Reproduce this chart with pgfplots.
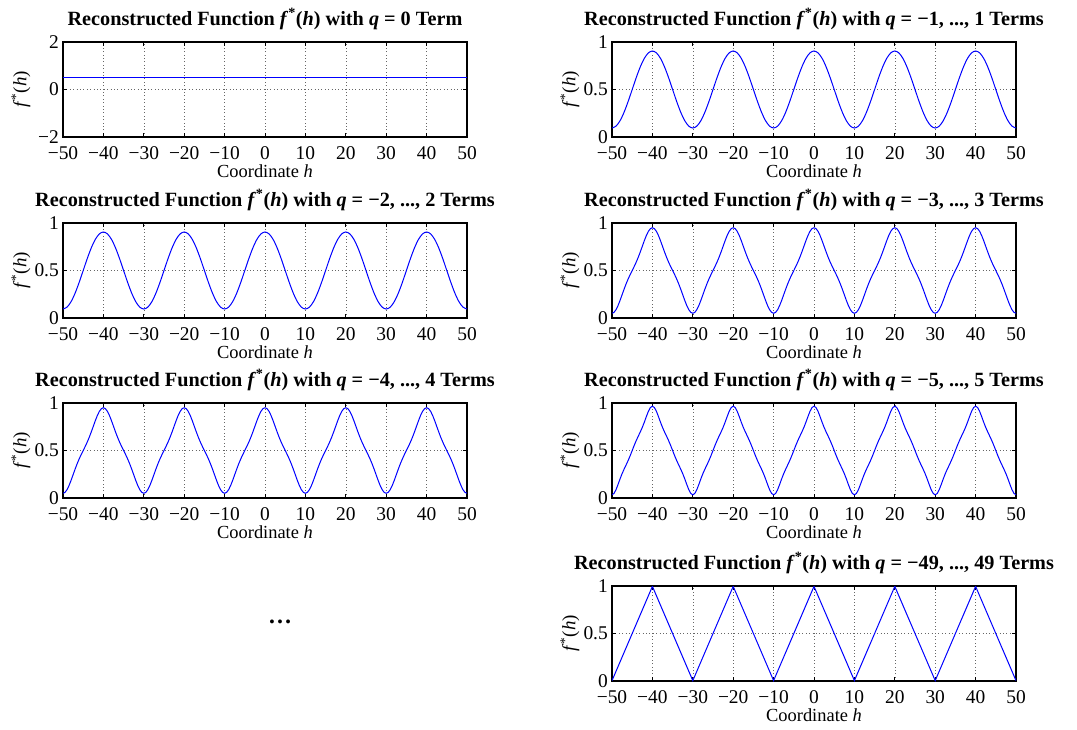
\documentclass[border=0pt]{standalone}
\usepackage{pgfplots}
\pgfplotsset{compat=1.18}
\usepackage{pgfplotstable}
\usepackage{fontspec}
\setmainfont{Liberation Serif}

% Partial Fourier sums of the triangle wave (period 20), sampled on h
% q = -1..1 (identical for -2..2)
\pgfplotstableread[row sep=\\]{
h f\\
-50 0.0947\\ -49 0.1146\\ -48 0.1721\\ -47 0.2618\\ -46 0.3748\\ -45 0.5000\\ -44 0.6252\\ -43 0.7382\\ -42 0.8279\\ -41 0.8854\\
-40 0.9053\\ -39 0.8854\\ -38 0.8279\\ -37 0.7382\\ -36 0.6252\\ -35 0.5000\\ -34 0.3748\\ -33 0.2618\\ -32 0.1721\\ -31 0.1146\\
-30 0.0947\\ -29 0.1146\\ -28 0.1721\\ -27 0.2618\\ -26 0.3748\\ -25 0.5000\\ -24 0.6252\\ -23 0.7382\\ -22 0.8279\\ -21 0.8854\\
-20 0.9053\\ -19 0.8854\\ -18 0.8279\\ -17 0.7382\\ -16 0.6252\\ -15 0.5000\\ -14 0.3748\\ -13 0.2618\\ -12 0.1721\\ -11 0.1146\\
-10 0.0947\\ -9 0.1146\\ -8 0.1721\\ -7 0.2618\\ -6 0.3748\\ -5 0.5000\\ -4 0.6252\\ -3 0.7382\\ -2 0.8279\\ -1 0.8854\\
0 0.9053\\ 1 0.8854\\ 2 0.8279\\ 3 0.7382\\ 4 0.6252\\ 5 0.5000\\ 6 0.3748\\ 7 0.2618\\ 8 0.1721\\ 9 0.1146\\
10 0.0947\\ 11 0.1146\\ 12 0.1721\\ 13 0.2618\\ 14 0.3748\\ 15 0.5000\\ 16 0.6252\\ 17 0.7382\\ 18 0.8279\\ 19 0.8854\\
20 0.9053\\ 21 0.8854\\ 22 0.8279\\ 23 0.7382\\ 24 0.6252\\ 25 0.5000\\ 26 0.3748\\ 27 0.2618\\ 28 0.1721\\ 29 0.1146\\
30 0.0947\\ 31 0.1146\\ 32 0.1721\\ 33 0.2618\\ 34 0.3748\\ 35 0.5000\\ 36 0.6252\\ 37 0.7382\\ 38 0.8279\\ 39 0.8854\\
40 0.9053\\ 41 0.8854\\ 42 0.8279\\ 43 0.7382\\ 44 0.6252\\ 45 0.5000\\ 46 0.3748\\ 47 0.2618\\ 48 0.1721\\ 49 0.1146\\
50 0.0947\\
}\tabA

% q = -3..3 (identical for -4..4)
\pgfplotstableread[row sep=\\]{
h f\\
-50 0.0497\\ -49.5 0.0596\\ -49 0.0881\\ -48.5 0.1318\\ -48 0.1860\\ -47.5 0.2453\\ -47 0.3046\\ -46.5 0.3605\\ -46 0.4112\\ -45.5 0.4570\\
-45 0.5000\\ -44.5 0.5430\\ -44 0.5888\\ -43.5 0.6395\\ -43 0.6954\\ -42.5 0.7547\\ -42 0.8140\\ -41.5 0.8682\\ -41 0.9119\\ -40.5 0.9404\\
-40 0.9503\\ -39.5 0.9404\\ -39 0.9119\\ -38.5 0.8682\\ -38 0.8140\\ -37.5 0.7547\\ -37 0.6954\\ -36.5 0.6395\\ -36 0.5888\\ -35.5 0.5430\\
-35 0.5000\\ -34.5 0.4570\\ -34 0.4112\\ -33.5 0.3605\\ -33 0.3046\\ -32.5 0.2453\\ -32 0.1860\\ -31.5 0.1318\\ -31 0.0881\\ -30.5 0.0596\\
-30 0.0497\\ -29.5 0.0596\\ -29 0.0881\\ -28.5 0.1318\\ -28 0.1860\\ -27.5 0.2453\\ -27 0.3046\\ -26.5 0.3605\\ -26 0.4112\\ -25.5 0.4570\\
-25 0.5000\\ -24.5 0.5430\\ -24 0.5888\\ -23.5 0.6395\\ -23 0.6954\\ -22.5 0.7547\\ -22 0.8140\\ -21.5 0.8682\\ -21 0.9119\\ -20.5 0.9404\\
-20 0.9503\\ -19.5 0.9404\\ -19 0.9119\\ -18.5 0.8682\\ -18 0.8140\\ -17.5 0.7547\\ -17 0.6954\\ -16.5 0.6395\\ -16 0.5888\\ -15.5 0.5430\\
-15 0.5000\\ -14.5 0.4570\\ -14 0.4112\\ -13.5 0.3605\\ -13 0.3046\\ -12.5 0.2453\\ -12 0.1860\\ -11.5 0.1318\\ -11 0.0881\\ -10.5 0.0596\\
-10 0.0497\\ -9.5 0.0596\\ -9 0.0881\\ -8.5 0.1318\\ -8 0.1860\\ -7.5 0.2453\\ -7 0.3046\\ -6.5 0.3605\\ -6 0.4112\\ -5.5 0.4570\\
-5 0.5000\\ -4.5 0.5430\\ -4 0.5888\\ -3.5 0.6395\\ -3 0.6954\\ -2.5 0.7547\\ -2 0.8140\\ -1.5 0.8682\\ -1 0.9119\\ -0.5 0.9404\\
0 0.9503\\ 0.5 0.9404\\ 1 0.9119\\ 1.5 0.8682\\ 2 0.8140\\ 2.5 0.7547\\ 3 0.6954\\ 3.5 0.6395\\ 4 0.5888\\ 4.5 0.5430\\
5 0.5000\\ 5.5 0.4570\\ 6 0.4112\\ 6.5 0.3605\\ 7 0.3046\\ 7.5 0.2453\\ 8 0.1860\\ 8.5 0.1318\\ 9 0.0881\\ 9.5 0.0596\\
10 0.0497\\ 10.5 0.0596\\ 11 0.0881\\ 11.5 0.1318\\ 12 0.1860\\ 12.5 0.2453\\ 13 0.3046\\ 13.5 0.3605\\ 14 0.4112\\ 14.5 0.4570\\
15 0.5000\\ 15.5 0.5430\\ 16 0.5888\\ 16.5 0.6395\\ 17 0.6954\\ 17.5 0.7547\\ 18 0.8140\\ 18.5 0.8682\\ 19 0.9119\\ 19.5 0.9404\\
20 0.9503\\ 20.5 0.9404\\ 21 0.9119\\ 21.5 0.8682\\ 22 0.8140\\ 22.5 0.7547\\ 23 0.6954\\ 23.5 0.6395\\ 24 0.5888\\ 24.5 0.5430\\
25 0.5000\\ 25.5 0.4570\\ 26 0.4112\\ 26.5 0.3605\\ 27 0.3046\\ 27.5 0.2453\\ 28 0.1860\\ 28.5 0.1318\\ 29 0.0881\\ 29.5 0.0596\\
30 0.0497\\ 30.5 0.0596\\ 31 0.0881\\ 31.5 0.1318\\ 32 0.1860\\ 32.5 0.2453\\ 33 0.3046\\ 33.5 0.3605\\ 34 0.4112\\ 34.5 0.4570\\
35 0.5000\\ 35.5 0.5430\\ 36 0.5888\\ 36.5 0.6395\\ 37 0.6954\\ 37.5 0.7547\\ 38 0.8140\\ 38.5 0.8682\\ 39 0.9119\\ 39.5 0.9404\\
40 0.9503\\ 40.5 0.9404\\ 41 0.9119\\ 41.5 0.8682\\ 42 0.8140\\ 42.5 0.7547\\ 43 0.6954\\ 43.5 0.6395\\ 44 0.5888\\ 44.5 0.5430\\
45 0.5000\\ 45.5 0.4570\\ 46 0.4112\\ 46.5 0.3605\\ 47 0.3046\\ 47.5 0.2453\\ 48 0.1860\\ 48.5 0.1318\\ 49 0.0881\\ 49.5 0.0596\\
50 0.0497\\
}\tabB

% q = -5..5
\pgfplotstableread[row sep=\\]{
h f\\
-50 0.0335\\ -49.5 0.0481\\ -49 0.0881\\ -48.5 0.1433\\ -48 0.2022\\ -47.5 0.2567\\ -47 0.3046\\ -46.5 0.3490\\ -46 0.3950\\ -45.5 0.4456\\
-45 0.5000\\ -44.5 0.5544\\ -44 0.6050\\ -43.5 0.6510\\ -43 0.6954\\ -42.5 0.7433\\ -42 0.7978\\ -41.5 0.8567\\ -41 0.9119\\ -40.5 0.9519\\
-40 0.9665\\ -39.5 0.9519\\ -39 0.9119\\ -38.5 0.8567\\ -38 0.7978\\ -37.5 0.7433\\ -37 0.6954\\ -36.5 0.6510\\ -36 0.6050\\ -35.5 0.5544\\
-35 0.5000\\ -34.5 0.4456\\ -34 0.3950\\ -33.5 0.3490\\ -33 0.3046\\ -32.5 0.2567\\ -32 0.2022\\ -31.5 0.1433\\ -31 0.0881\\ -30.5 0.0481\\
-30 0.0335\\ -29.5 0.0481\\ -29 0.0881\\ -28.5 0.1433\\ -28 0.2022\\ -27.5 0.2567\\ -27 0.3046\\ -26.5 0.3490\\ -26 0.3950\\ -25.5 0.4456\\
-25 0.5000\\ -24.5 0.5544\\ -24 0.6050\\ -23.5 0.6510\\ -23 0.6954\\ -22.5 0.7433\\ -22 0.7978\\ -21.5 0.8567\\ -21 0.9119\\ -20.5 0.9519\\
-20 0.9665\\ -19.5 0.9519\\ -19 0.9119\\ -18.5 0.8567\\ -18 0.7978\\ -17.5 0.7433\\ -17 0.6954\\ -16.5 0.6510\\ -16 0.6050\\ -15.5 0.5544\\
-15 0.5000\\ -14.5 0.4456\\ -14 0.3950\\ -13.5 0.3490\\ -13 0.3046\\ -12.5 0.2567\\ -12 0.2022\\ -11.5 0.1433\\ -11 0.0881\\ -10.5 0.0481\\
-10 0.0335\\ -9.5 0.0481\\ -9 0.0881\\ -8.5 0.1433\\ -8 0.2022\\ -7.5 0.2567\\ -7 0.3046\\ -6.5 0.3490\\ -6 0.3950\\ -5.5 0.4456\\
-5 0.5000\\ -4.5 0.5544\\ -4 0.6050\\ -3.5 0.6510\\ -3 0.6954\\ -2.5 0.7433\\ -2 0.7978\\ -1.5 0.8567\\ -1 0.9119\\ -0.5 0.9519\\
0 0.9665\\ 0.5 0.9519\\ 1 0.9119\\ 1.5 0.8567\\ 2 0.7978\\ 2.5 0.7433\\ 3 0.6954\\ 3.5 0.6510\\ 4 0.6050\\ 4.5 0.5544\\
5 0.5000\\ 5.5 0.4456\\ 6 0.3950\\ 6.5 0.3490\\ 7 0.3046\\ 7.5 0.2567\\ 8 0.2022\\ 8.5 0.1433\\ 9 0.0881\\ 9.5 0.0481\\
10 0.0335\\ 10.5 0.0481\\ 11 0.0881\\ 11.5 0.1433\\ 12 0.2022\\ 12.5 0.2567\\ 13 0.3046\\ 13.5 0.3490\\ 14 0.3950\\ 14.5 0.4456\\
15 0.5000\\ 15.5 0.5544\\ 16 0.6050\\ 16.5 0.6510\\ 17 0.6954\\ 17.5 0.7433\\ 18 0.7978\\ 18.5 0.8567\\ 19 0.9119\\ 19.5 0.9519\\
20 0.9665\\ 20.5 0.9519\\ 21 0.9119\\ 21.5 0.8567\\ 22 0.7978\\ 22.5 0.7433\\ 23 0.6954\\ 23.5 0.6510\\ 24 0.6050\\ 24.5 0.5544\\
25 0.5000\\ 25.5 0.4456\\ 26 0.3950\\ 26.5 0.3490\\ 27 0.3046\\ 27.5 0.2567\\ 28 0.2022\\ 28.5 0.1433\\ 29 0.0881\\ 29.5 0.0481\\
30 0.0335\\ 30.5 0.0481\\ 31 0.0881\\ 31.5 0.1433\\ 32 0.2022\\ 32.5 0.2567\\ 33 0.3046\\ 33.5 0.3490\\ 34 0.3950\\ 34.5 0.4456\\
35 0.5000\\ 35.5 0.5544\\ 36 0.6050\\ 36.5 0.6510\\ 37 0.6954\\ 37.5 0.7433\\ 38 0.7978\\ 38.5 0.8567\\ 39 0.9119\\ 39.5 0.9519\\
40 0.9665\\ 40.5 0.9519\\ 41 0.9119\\ 41.5 0.8567\\ 42 0.7978\\ 42.5 0.7433\\ 43 0.6954\\ 43.5 0.6510\\ 44 0.6050\\ 44.5 0.5544\\
45 0.5000\\ 45.5 0.4456\\ 46 0.3950\\ 46.5 0.3490\\ 47 0.3046\\ 47.5 0.2567\\ 48 0.2022\\ 48.5 0.1433\\ 49 0.0881\\ 49.5 0.0481\\
50 0.0335\\
}\tabC

% q = -49..49 (practically the triangle wave itself)
\pgfplotstableread[row sep=\\]{
h f\\
-50 0.004\\ -40 0.996\\ -30 0.004\\ -20 0.996\\ -10 0.004\\ 0 0.996\\
10 0.004\\ 20 0.996\\ 30 0.004\\ 40 0.996\\ 50 0.004\\
}\tabD

% constant term only
\pgfplotstableread[row sep=\\]{
h f\\
-50 0.5\\ 50 0.5\\
}\tabZ

\newcommand{\fh}{\textit{f}\textsuperscript{*}(\textit{h})}

\pgfplotsset{
  recon/.style={
    scale only axis, width=404bp, height=95bp,
    anchor=north west,
    xmin=-50, xmax=50, ymin=0, ymax=1,
    xtick={-50,-40,...,50},
    xticklabels={−50,−40,−30,−20,−10,0,10,20,30,40,50},
    ytick={0,0.5,1}, yticklabels={0,0.5,1},
    xtick pos=both, ytick pos=both,
    xticklabel pos=lower, yticklabel pos=left,
    tick align=inside,
    major tick length=4bp,
    tick style={black, line width=0.8bp},
    axis line style={black, line width=1.1bp},
    grid=major,
    major grid style={black!60, line width=0.6bp, dash pattern=on 0.8bp off 2.6bp},
    every tick label/.append style={font=\fontsize{19.5}{21}\selectfont, inner sep=0pt},
    xticklabel style={anchor=base, yshift=-22bp},
    yticklabel style={anchor=east, xshift=-4bp},
    xlabel={Coordinate \textit{h}},
    ylabel={\fh},
    every axis x label/.style={at={(axis description cs:0.5,0)}, anchor=base,
      yshift=-40bp, font=\fontsize{18.5}{20}\selectfont, inner sep=0pt},
    every axis y label/.style={at={(axis description cs:0,0.5)}, xshift=-42bp,
      rotate=90, anchor=center, font=\fontsize{19}{21}\selectfont, inner sep=0pt},
    every axis title/.style={at={(axis description cs:0.5,1)}, anchor=base,
      yshift=17bp, font=\fontsize{20.3}{22}\selectfont\bfseries, inner sep=0pt},
  },
  curve/.style={color=blue, line width=1bp, no markers},
}

\begin{document}
\begin{tikzpicture}
\path (0,0) rectangle (1077bp,-730bp);

% row 1
\begin{axis}[recon, at={(63bp,-42bp)}, ymin=-2, ymax=2,
  ytick={-2,0,2}, yticklabels={−2,0,2},
  title={Reconstructed Function \fh{} with \textit{q} = 0 Term}]
\addplot[curve, line width=1.2bp] table[x=h, y=f] {\tabZ};
\end{axis}
\begin{axis}[recon, at={(612bp,-42bp)},
  title={Reconstructed Function \fh{} with \textit{q} = −1, ..., 1 Terms}]
\addplot[curve, smooth] table[x=h, y=f] {\tabA};
\end{axis}

% row 2
\begin{axis}[recon, at={(63bp,-223bp)},
  title={Reconstructed Function \fh{} with \textit{q} = −2, ..., 2 Terms}]
\addplot[curve, smooth] table[x=h, y=f] {\tabA};
\end{axis}
\begin{axis}[recon, at={(612bp,-223bp)},
  title={Reconstructed Function \fh{} with \textit{q} = −3, ..., 3 Terms}]
\addplot[curve] table[x=h, y=f] {\tabB};
\end{axis}

% row 3
\begin{axis}[recon, at={(63bp,-403bp)},
  title={Reconstructed Function \fh{} with \textit{q} = −4, ..., 4 Terms}]
\addplot[curve] table[x=h, y=f] {\tabB};
\end{axis}
\begin{axis}[recon, at={(612bp,-403bp)},
  title={Reconstructed Function \fh{} with \textit{q} = −5, ..., 5 Terms}]
\addplot[curve] table[x=h, y=f] {\tabC};
\end{axis}

% row 4
\begin{axis}[recon, at={(612bp,-586bp)},
  title={Reconstructed Function \fh{} with \textit{q} = −49, ..., 49 Terms}]
\addplot[curve] table[x=h, y=f] {\tabD};
\end{axis}

\node[font=\fontsize{24}{26}\selectfont\bfseries] at (280bp,-622bp) {…};
\end{tikzpicture}
\end{document}
